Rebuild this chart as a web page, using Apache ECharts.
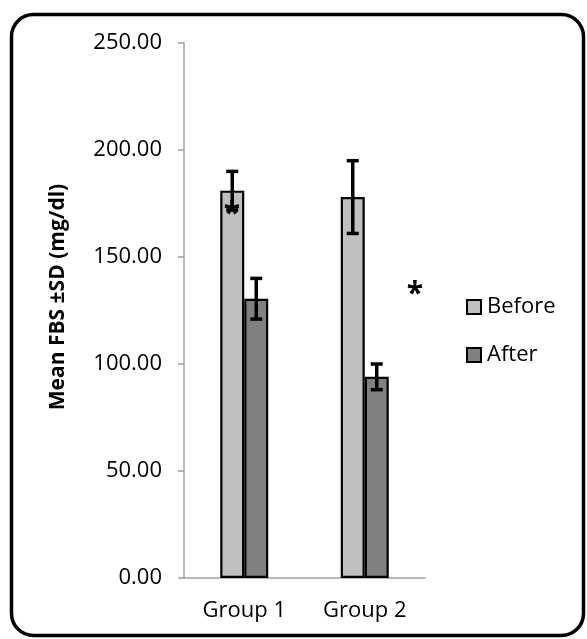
<!DOCTYPE html>
<html>
<head>
<meta charset="utf-8">
<script src="https://cdn.jsdelivr.net/npm/echarts@6/dist/echarts.min.js"></script>
<style>html,body{margin:0;padding:0;background:#fff;}#c{width:587px;height:639px;}</style>
</head>
<body>
<div id="c"></div>
<script>
var categories = ['Group 1', 'Group 2'];
var beforeMean = [181, 178];
var beforeSD = [9, 17];
var afterMean = [130.5, 94];
var afterSD = [9.5, 6];
var yTicks = [0, 50, 100, 150, 200, 250];

var FONT = 'Open Sans';
var BAR_W = 24;

function errData(means, sds) {
  return means.map(function (m, i) { return [i, m - sds[i], m + sds[i]]; });
}
function errSeries(name, means, sds, side) {
  return {
    type: 'custom',
    name: name + ' SD',
    z: 10,
    silent: true,
    data: errData(means, sds),
    renderItem: function (params, api) {
      var lo = api.coord([api.value(0), api.value(1)]);
      var hi = api.coord([api.value(0), api.value(2)]);
      var x = lo[0] + side * BAR_W / 2;
      var cap = 6;
      var st = { stroke: '#000', lineWidth: 3.5 };
      return {
        type: 'group',
        children: [
          { type: 'line', shape: { x1: x, y1: lo[1], x2: x, y2: hi[1] }, style: st },
          { type: 'line', shape: { x1: x - cap, y1: lo[1], x2: x + cap, y2: lo[1] }, style: st },
          { type: 'line', shape: { x1: x - cap, y1: hi[1], x2: x + cap, y2: hi[1] }, style: st }
        ]
      };
    }
  };
}

var chart = echarts.init(document.getElementById('c'));
chart.setOption({
  animation: false,
  backgroundColor: '#fff',
  grid: { left: 184, top: 43, right: 162, bottom: 61 },
  legend: {
    orient: 'vertical',
    left: 461,
    top: 291,
    itemWidth: 14,
    itemHeight: 14,
    itemGap: 26,
    icon: 'rect',
    data: ['Before', 'After'],
    textStyle: { fontFamily: FONT, fontSize: 22, color: '#000', padding: [0, 0, 0, 1] }
  },
  xAxis: {
    type: 'category',
    data: categories,
    axisLine: { lineStyle: { color: '#a0a0a0', width: 1.5 } },
    axisTick: { show: false },
    axisLabel: { fontFamily: FONT, fontSize: 22, color: '#000', margin: 22 }
  },
  yAxis: {
    type: 'value',
    min: 0,
    max: 250,
    interval: 50,
    axisLine: { show: true, lineStyle: { color: '#a0a0a0', width: 1.5 } },
    axisTick: { show: true, length: 6, lineStyle: { color: '#a0a0a0', width: 1.5 } },
    splitLine: { show: false },
    axisLabel: {
      fontFamily: FONT, fontSize: 22, color: '#000', margin: 22,
      formatter: function (v) { return yTicks.indexOf(v) >= 0 ? v.toFixed(2) : ''; }
    }
  },
  series: [
    {
      name: 'Before', type: 'bar', data: beforeMean, barWidth: BAR_W, barGap: '0%',
      itemStyle: { color: '#c0c0c0', borderColor: '#000', borderWidth: 2.2 }
    },
    {
      name: 'After', type: 'bar', data: afterMean, barWidth: BAR_W, barGap: '0%',
      itemStyle: { color: '#808080', borderColor: '#000', borderWidth: 2.2 }
    },
    errSeries('Before', beforeMean, beforeSD, -1),
    errSeries('After', afterMean, afterSD, 1)
  ],
  graphic: [
    {
      type: 'rect', z: 100, silent: true,
      shape: { x: 11.5, y: 14.5, width: 572, height: 621, r: 22 },
      style: { fill: 'none', stroke: '#000', lineWidth: 3.5 }
    },
    {
      type: 'text', z: 100, x: 58, y: 297, rotation: Math.PI / 2,
      style: { text: 'Mean FBS \u00B1SD (mg/dl)', fontFamily: FONT, fontSize: 21, fontWeight: 'bold',
        fill: '#000', align: 'center', verticalAlign: 'middle' }
    },
    {
      type: 'text', z: 100, x: 415, y: 294,
      style: { text: '*', fontFamily: FONT, fontSize: 30, fontWeight: 'bold', fill: '#000', align: 'center', verticalAlign: 'middle' }
    },
    {
      type: 'text', z: 100, x: 232, y: 214,
      style: { text: '*', fontFamily: FONT, fontSize: 30, fontWeight: 'bold', fill: '#000', align: 'center', verticalAlign: 'middle' }
    }
  ]
});
</script>
</body>
</html>
